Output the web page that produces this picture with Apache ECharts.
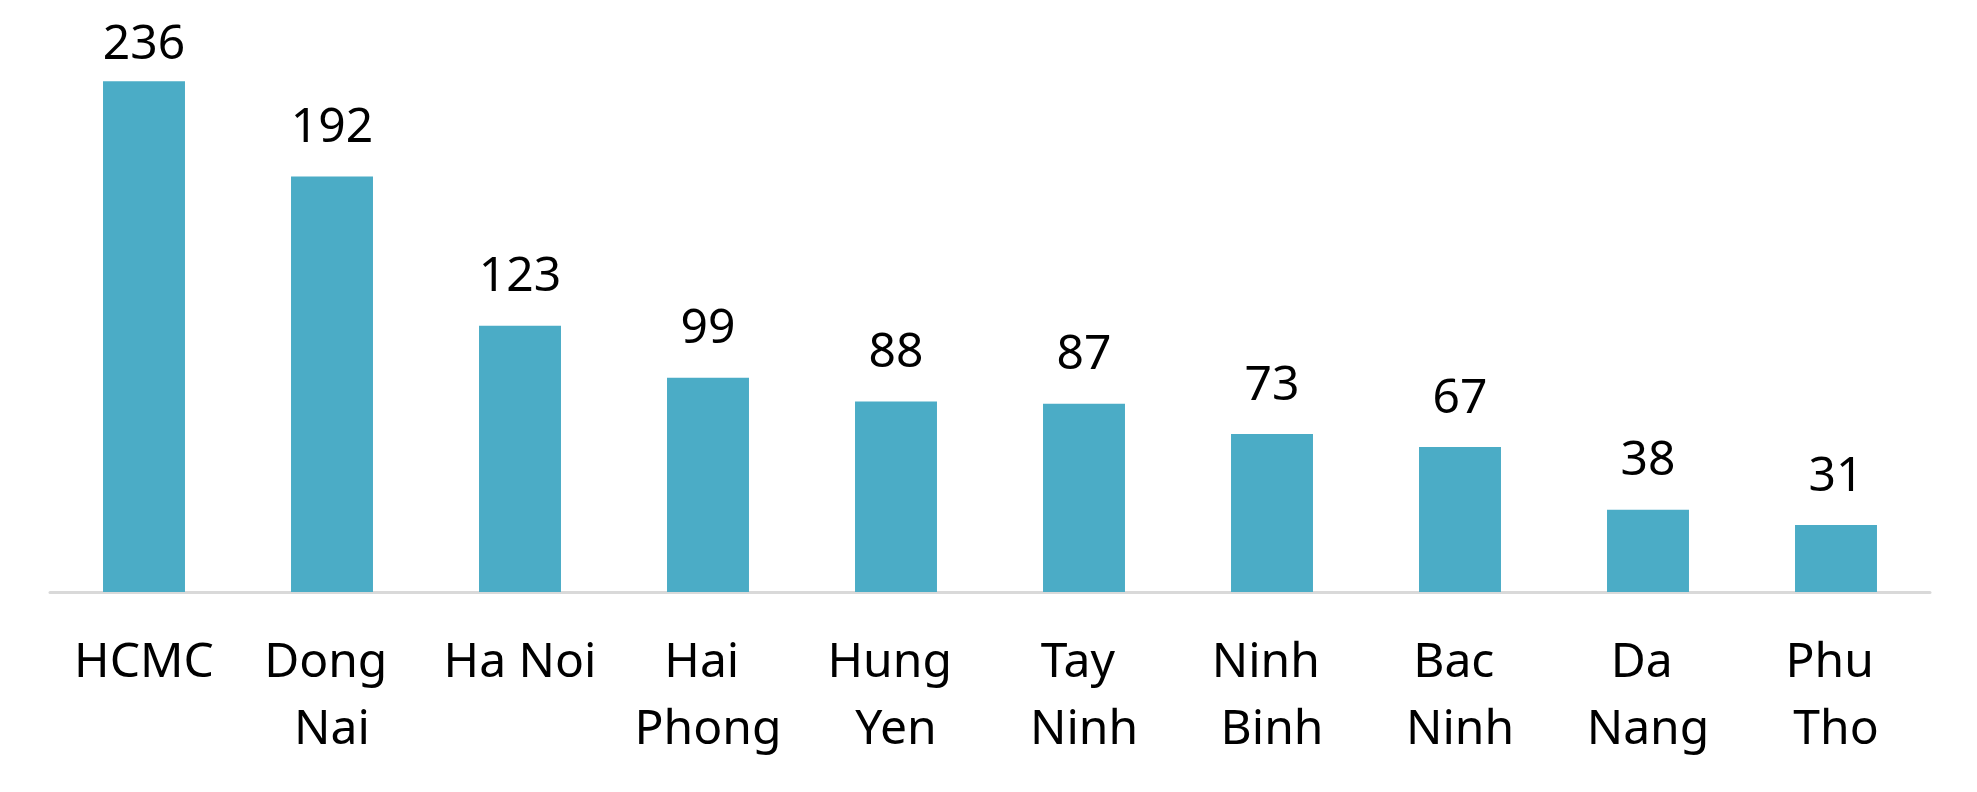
<!DOCTYPE html>
<html>
<head>
<meta charset="utf-8">
<script src="https://cdn.jsdelivr.net/npm/echarts@6/dist/echarts.min.js"></script>
<style>
html,body{margin:0;padding:0;background:#fff;}
#chart{width:1977px;height:792px;}
</style>
</head>
<body>
<div id="chart"></div>
<script>
const categories = ["HCMC", "Dong Nai", "Ha Noi", "Hai Phong", "Hung Yen", "Tay Ninh", "Ninh Binh", "Bac Ninh", "Da Nang", "Phu Tho"];
const values = [236, 192, 123, 99, 88, 87, 73, 67, 38, 31];

const yMax = 250;
// labels that would run off the top of the plot are pulled closer to their bar
const seriesData = values.map(v => v > 220 ? {value: v, label: {distance: 12}} : v);

const chart = echarts.init(document.getElementById('chart'), null, {renderer: 'canvas'});
chart.setOption({
  animation: false,
  backgroundColor: '#ffffff',
  grid: {left: 50, right: 47, top: 51, bottom: 200, containLabel: false},
  xAxis: {
    type: 'category',
    data: categories,
    axisLine: {show: true, lineStyle: {color: '#D9D9D9', width: 3}},
    axisTick: {show: false},
    axisLabel: {
      color: '#000000',
      fontFamily: 'Noto Sans',
      fontSize: 48,
      lineHeight: 67,
      margin: 38,
      interval: 0,
      width: 170,
      overflow: 'break'
    }
  },
  yAxis: {
    type: 'value',
    min: 0,
    max: yMax,
    show: false,
    splitLine: {show: false}
  },
  series: [{
    type: 'bar',
    data: seriesData,
    barWidth: '43.6%',
    itemStyle: {color: '#4BACC6'},
    label: {
      show: true,
      position: 'top',
      distance: 24,
      color: '#000000',
      fontFamily: 'Noto Sans',
      fontSize: 48,
      lineHeight: 48
    }
  }]
});
</script>
</body>
</html>
